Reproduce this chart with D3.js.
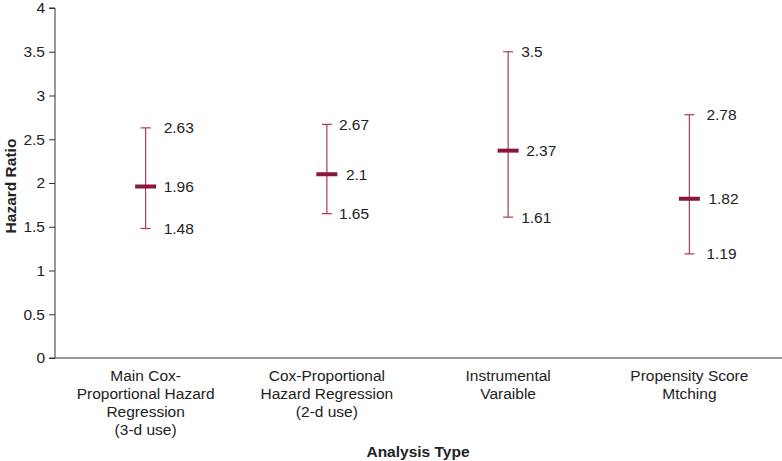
<!DOCTYPE html>
<html><head><meta charset="utf-8">
<script src="https://cdn.jsdelivr.net/npm/d3@7"></script>
<style>body{margin:0;background:#fff}svg{display:block;font-family:"Liberation Sans",Arial,sans-serif}</style>
</head><body><svg id="c" width="782" height="461"></svg>
<script>
const categories = [["Main Cox-","Proportional Hazard","Regression","(3-d use)"],["Cox-Proportional","Hazard Regression","(2-d use)"],["Instrumental","Varaible"],["Propensity Score","Mtching"]];
const estimates = [1.96, 2.1, 2.37, 1.82];
const lower = [1.48, 1.65, 1.61, 1.19];
const upper = [2.63, 2.67, 3.5, 2.78];
const yTicks = [0,0.5,1,1.5,2,2.5,3,3.5,4];

const capDx = [18, 12, 13, 17];
const meanDx = [18, 19, 18, 19];

const svg = d3.select("#c");
const x = d3.scaleBand().domain(d3.range(categories.length)).range([55,780]);
const y = d3.scaleLinear().domain([0,4]).range([358,8]);

const yAxis = svg.append("g").attr("transform","translate(55,0)")
  .call(d3.axisLeft(y).tickValues(yTicks).tickSize(6).tickPadding(4).tickFormat(d=>String(d)));
yAxis.select(".domain").attr("stroke","#333").attr("d","M-6,8H0V358H-6");
yAxis.selectAll(".tick line").attr("stroke","#333");
yAxis.selectAll("text").attr("font-size",15.5).attr("fill","#222").attr("font-family","Liberation Sans, Arial, sans-serif");

svg.append("line").attr("x1",55).attr("x2",782).attr("y1",358).attr("y2",358).attr("stroke","#333");

const g = svg.append("g");
categories.forEach((c,i)=>{
  const cx = x(i)+x.bandwidth()/2;
  g.append("line").attr("x1",cx).attr("x2",cx).attr("y1",y(upper[i])).attr("y2",y(lower[i])).attr("stroke","#a83a62").attr("stroke-width",1.2);
  [upper[i],lower[i]].forEach(v=>{
    g.append("line").attr("x1",cx-5).attr("x2",cx+5).attr("y1",y(v)).attr("y2",y(v)).attr("stroke","#a83a62").attr("stroke-width",1.2);
  });
  g.append("line").attr("x1",cx-10.5).attr("x2",cx+10.5).attr("y1",y(estimates[i])).attr("y2",y(estimates[i])).attr("stroke","#8a1640").attr("stroke-width",4);
  [[upper[i],capDx[i]],[estimates[i],meanDx[i]],[lower[i],capDx[i]]].forEach(([v,dx])=>{
    g.append("text").attr("x",cx+dx).attr("y",y(v)).attr("dy","0.36em").attr("font-size",15.5).attr("fill","#222").text(String(v));
  });
  const t = g.append("text").attr("text-anchor","middle").attr("font-size",15.5).attr("fill","#222");
  c.forEach((line,k)=>t.append("tspan").attr("x",cx).attr("y",381+k*18).text(line));
});

svg.append("text").attr("x",418).attr("y",457).attr("text-anchor","middle").attr("font-weight","bold").attr("font-size",15.5).attr("fill","#222").text("Analysis Type");
svg.append("text").attr("transform","translate(16,186) rotate(-90)").attr("text-anchor","middle").attr("font-weight","bold").attr("font-size",15.5).attr("fill","#222").text("Hazard Ratio");
</script></body></html>
